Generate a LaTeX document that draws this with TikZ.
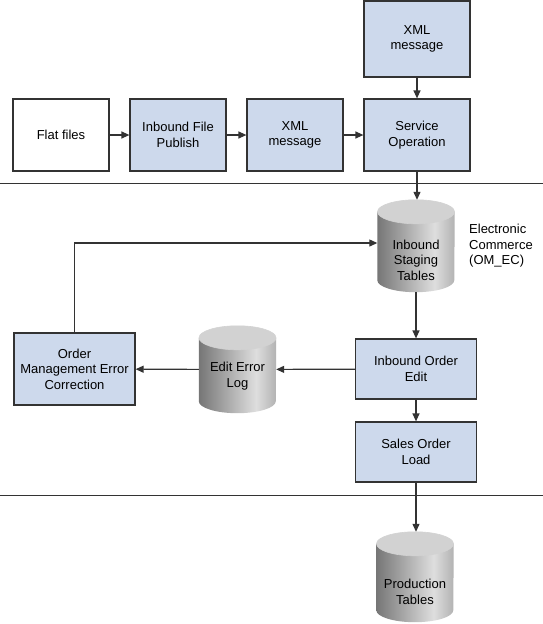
\documentclass[tikz,border=0pt]{standalone}
\usepackage{fontspec}
\setmainfont{Liberation Sans}
\usetikzlibrary{arrows.meta}
\definecolor{boxblue}{RGB}{205,217,236}
\definecolor{linec}{RGB}{51,51,51}
\definecolor{cyltop}{RGB}{210,210,210}
\definecolor{cylA}{RGB}{118,118,118}
\definecolor{cylB}{RGB}{222,222,222}
\definecolor{cylC}{RGB}{178,178,178}
\pgfdeclarehorizontalshading{cylbody}{100bp}{color(0bp)=(cylA); color(25bp)=(cylA); color(62bp)=(cylB); color(75bp)=(cylC); color(100bp)=(cylC)}
\tikzset{
  box/.style={draw=linec, line width=1.2pt, fill=boxblue, minimum width=96pt, minimum height=72pt, align=center, inner sep=0pt, font=\fontsize{13}{15.5}\selectfont},
  cylbox/.style={minimum width=77pt, inner sep=0pt},
  txt/.style={align=center, inner sep=0pt, font=\fontsize{13}{15.5}\selectfont},
  arr/.style={draw=linec, line width=1.2pt, -{Triangle[length=8pt,width=7pt]}},
  sep/.style={draw=linec, line width=1pt}
}
\newcommand\drawcyl[1]{%
  \path[shading=cylbody] ([yshift=-12pt]#1.north west) -- ([yshift=12pt]#1.south west)
     arc[start angle=180, end angle=360, x radius=38.5pt, y radius=12pt]
     -- ([yshift=-12pt]#1.north east) -- cycle;
  \path[fill=cyltop, draw=gray!35, line width=0.6pt] ([yshift=-12pt]#1.north) ellipse[x radius=38.5pt, y radius=12pt];
}
\begin{document}
\begin{tikzpicture}[x=1pt,y=-1pt]
\useasboundingbox (0,0) rectangle (543,624);
% separators
\coordinate (s1l) at (0,183); \coordinate (s1r) at (543,183);
\coordinate (s2l) at (0,495); \coordinate (s2r) at (543,495);
\draw[sep] (s1l) -- (s1r);
\draw[sep] (s2l) -- (s2r);
% top row
\node[box, minimum width=106pt, minimum height=76pt] (xmltop) at (417,39) {XML\\message};
\node[box, fill=white] (flat) at (61,135) {Flat files};
\node[box] (ifp) at (178,135) {Inbound File\\Publish};
\node[box] (xml2) at (295,135) {XML\\message};
\node[box, minimum width=106pt] (svc) at (417,135) {Service\\Operation};
% cylinders
\node[cylbox, minimum height=92pt] (staging) at (416,246) {};
\drawcyl{staging}
\node[txt] (stagingtxt) at (416,260) {Inbound\\Staging\\Tables};
\node[txt, align=left, anchor=west] (ec) at (469,246) {Electronic\\Commerce\\(OM\_EC)};
\node[cylbox, minimum height=87pt] (eel) at (237.5,369.5) {};
\drawcyl{eel}
\node[txt] (eeltxt) at (237.5,376) {Edit Error\\Log};
\node[cylbox, minimum height=90pt] (prod) at (415,577) {};
\drawcyl{prod}
\node[txt] (prodtxt) at (415,592) {Production\\Tables};
% middle boxes
\node[box, minimum width=121pt, minimum height=60pt] (ioe) at (416,369) {Inbound Order\\Edit};
\node[box, minimum width=121pt, minimum height=60pt] (sol) at (416,452) {Sales Order\\Load};
\node[box, minimum width=121pt] (omec) at (74.5,369) {Order\\Management Error\\Correction};
% connectors
\draw[arr] (flat) -- (ifp);
\draw[arr] (ifp) -- (xml2);
\draw[arr] (xml2) -- (svc);
\draw[arr] (xmltop) -- (svc);
\draw[arr] (svc.south) -- (svc.south |- staging.north);
\draw[arr] (staging.south) -- (ioe.north);
\draw[arr] (ioe) -- (eel);
\draw[arr] (eel) -- (omec);
\draw[arr] (ioe) -- (sol);
\draw[arr] (sol.south) -- (sol.south |- prod.north);
\draw[arr] (omec.north) |- ([yshift=3pt]staging.west);
\end{tikzpicture}
\end{document}
